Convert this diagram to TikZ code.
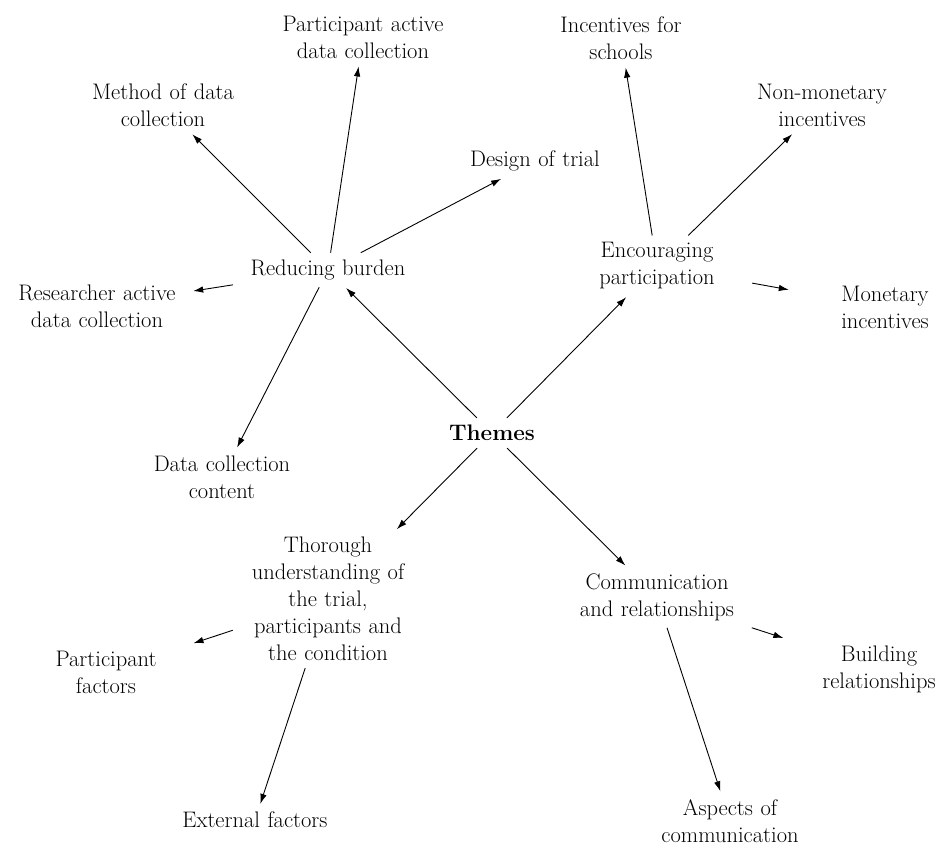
\documentclass[tikz,border=0pt]{standalone}
\usetikzlibrary{arrows.meta}
\begin{document}
\begin{tikzpicture}[x=1pt,y=-1pt,
  lbl/.style={inner xsep=5pt, inner ysep=7pt, text width=180pt, align=center, font=\fontsize{22.5}{27}\selectfont},
  conn/.style={-{Latex[length=10pt,width=6.5pt]}, line width=0.9pt, shorten >=1pt}]
\useasboundingbox (0,0) rectangle (947,845);
\node[lbl,font=\fontsize{22.5}{27}\selectfont\bfseries] (theme) at (492,433) {Themes};
\node[lbl] (red) at (328,270) {Reducing burden};
\node[lbl] (enc) at (657,266) {Encouraging\\participation};
\node[lbl] (tho) at (328,599) {Thorough\\understanding of\\the trial,\\participants and\\the condition};
\node[lbl] (com) at (657,597) {Communication\\and relationships};
\node[lbl] (meth) at (163,105) {Method of data\\collection};
\node[lbl] (pact) at (363,37) {Participant active\\data collection};
\node[lbl] (des) at (535,161) {Design of trial};
\node[lbl] (res) at (97,306) {Researcher active\\data collection};
\node[lbl] (dcc) at (222,477) {Data collection\\content};
\node[lbl] (inc) at (621,38) {Incentives for\\schools};
\node[lbl] (nonm) at (822,105) {Non-monetary\\incentives};
\node[lbl] (mon) at (885,307) {Monetary\\incentives};
\node[lbl] (pf) at (106,672) {Participant\\factors};
\node[lbl] (ext) at (255,820) {External factors};
\node[lbl] (bld) at (879,669) {Building\\relationships};
\node[lbl] (asp) at (730,821) {Aspects of\\communication};
\draw[conn] (theme) -- (red);
\draw[conn] (theme) -- (enc);
\draw[conn] (theme) -- (tho);
\draw[conn] (theme) -- (com);
\draw[conn] (red) -- (meth);
\draw[conn] (red) -- (pact);
\draw[conn] (red) -- (des);
\draw[conn] (red) -- (res);
\draw[conn] (red) -- (dcc);
\draw[conn] (enc) -- (inc);
\draw[conn] (enc) -- (nonm);
\draw[conn] (enc) -- (mon);
\draw[conn] (tho) -- (pf);
\draw[conn] (tho) -- (ext);
\draw[conn] (com) -- (bld);
\draw[conn] (com) -- (asp);
\end{tikzpicture}
\end{document}
